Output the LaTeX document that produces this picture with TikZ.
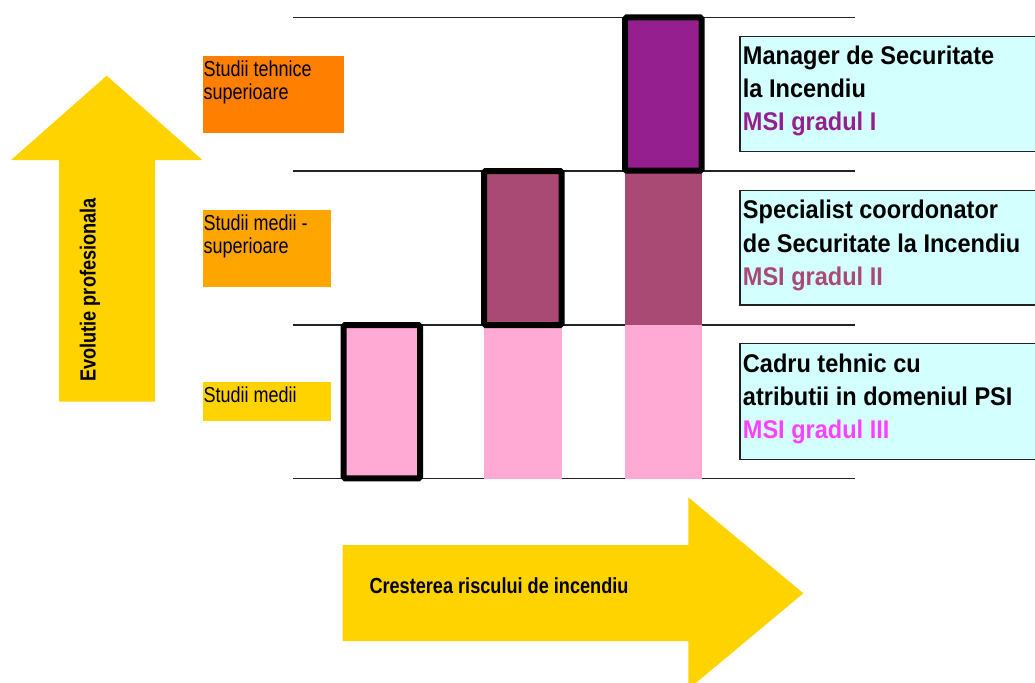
\documentclass[tikz,border=0pt]{standalone}
\usepackage{fontspec}
\newfontfamily\nfA[FakeStretch=0.92]{Liberation Sans}
\newfontfamily\nfB[FakeStretch=0.83]{Liberation Sans}
\definecolor{gold}{HTML}{FFD300}
\definecolor{orangeA}{HTML}{FF7F00}
\definecolor{orangeB}{HTML}{FFA500}
\definecolor{pinkbar}{HTML}{FFAAD4}
\definecolor{mauve}{HTML}{A94A74}
\definecolor{purplebar}{HTML}{951F8E}
\definecolor{cyanbox}{HTML}{D4FFFF}
\definecolor{magentatxt}{HTML}{FF40FF}
\definecolor{linegray}{HTML}{222222}
\tikzset{
  levelline/.style={draw=linegray,line width=1.5pt},
  barframe/.style={draw=black,line width=6pt,rounded corners=1.5pt},
  rolebox/.style={draw=linegray,line width=1.5pt,fill=cyanbox},
  roletxt/.style={anchor=base west,inner sep=0pt,font=\nfA\fontsize{25.6}{30}\selectfont\bfseries},
  studytxt/.style={anchor=base west,inner sep=0pt,font=\nfB\fontsize{21.7}{25}\selectfont},
  studybox/.style={anchor=north west,inner sep=0pt,outer sep=0pt},
}
\begin{document}
\begin{tikzpicture}[x=1pt,y=-1pt]
\clip (0,0) rectangle (1035,682);
\fill[white] (0,0) rectangle (1035,682);
% up arrow
\fill[gold] (59,401.7) -- (59,160) -- (11,160) -- (106.7,75.7) -- (202.3,160) -- (155,160) -- (155,401.7) -- cycle;
\node[rotate=90,anchor=base,inner sep=0pt,font=\nfB\fontsize{21.9}{25}\selectfont\bfseries] (evol) at (95.5,290) {Evolutie profesionala};
% study labels
\node[studybox,fill=orangeA,minimum width=140.7pt,minimum height=76.7pt] (s1box) at (203.3,56) {};
\node[studytxt] (s1a) at (203.3,76.7) {Studii tehnice};
\node[studytxt] (s1b) at (203.3,99.5) {superioare};
\node[studybox,fill=orangeB,minimum width=127.7pt,minimum height=76.7pt] (s2box) at (203.3,210) {};
\node[studytxt] (s2a) at (203.3,230.5) {Studii medii -};
\node[studytxt] (s2b) at (203.3,253.5) {superioare};
\node[studybox,fill=gold,minimum width=127.7pt,minimum height=38.7pt] (s3box) at (203.3,382) {};
\node[studytxt] (s3a) at (203.3,402) {Studii medii};
% level lines
\coordinate (l0a) at (293,17.5); \coordinate (l0b) at (855,17.5);
\coordinate (l1a) at (293,171); \coordinate (l1b) at (855,171);
\coordinate (l2a) at (293,325); \coordinate (l2b) at (855,325);
\coordinate (l3a) at (293,478.5); \coordinate (l3b) at (855,478.5);
\draw[levelline] (l0a) -- (l0b);
\draw[levelline] (l1a) -- (l1b);
\draw[levelline] (l2a) -- (l2b);
\draw[levelline] (l3a) -- (l3b);
% bars
\fill[pinkbar] (343.7,325) rectangle (420,478.3);
\draw[barframe] (343.7,325) rectangle (420,478.3);
\fill[pinkbar] (484,325) rectangle (561.5,479);
\fill[mauve] (484,171) rectangle (561.5,325);
\draw[barframe] (484,171) rectangle (561.5,325);
\fill[pinkbar] (625,325) rectangle (701.7,479);
\fill[mauve] (625,171) rectangle (701.7,325);
\fill[purplebar] (625,17.5) rectangle (701.7,170.7);
\draw[barframe] (625,17.5) rectangle (701.7,170.7);
% role boxes
\draw[rolebox] (740,36.7) rectangle (1045,151.7);
\node[roletxt] (r1a) at (742.7,65) {Manager de Securitate};
\node[roletxt] (r1b) at (742.7,98) {la Incendiu};
\node[roletxt,text=purplebar] (r1c) at (742.7,131) {MSI gradul I};
\draw[rolebox] (740,190.7) rectangle (1045,305);
\node[roletxt] (r2a) at (742.7,218.5) {Specialist coordonator};
\node[roletxt] (r2b) at (742.7,252) {de Securitate la Incendiu};
\node[roletxt,text=mauve] (r2c) at (742.7,285) {MSI gradul II};
\draw[rolebox] (740,343.3) rectangle (1045,459.3);
\node[roletxt] (r3a) at (742.7,372) {Cadru tehnic cu};
\node[roletxt] (r3b) at (742.7,405) {atributii in domeniul PSI};
\node[roletxt,text=magentatxt] (r3c) at (742.7,438) {MSI gradul III};
% right arrow
\fill[gold] (342.7,545) -- (688.3,545) -- (688.3,497.3) -- (803.3,593.3) -- (688.3,689.3) -- (688.3,641) -- (342.7,641) -- cycle;
\node[anchor=base west,inner sep=0pt,font=\nfB\fontsize{21.85}{25}\selectfont\bfseries] (risk) at (369.3,593.3) {Cresterea riscului de incendiu};
\end{tikzpicture}
\end{document}
